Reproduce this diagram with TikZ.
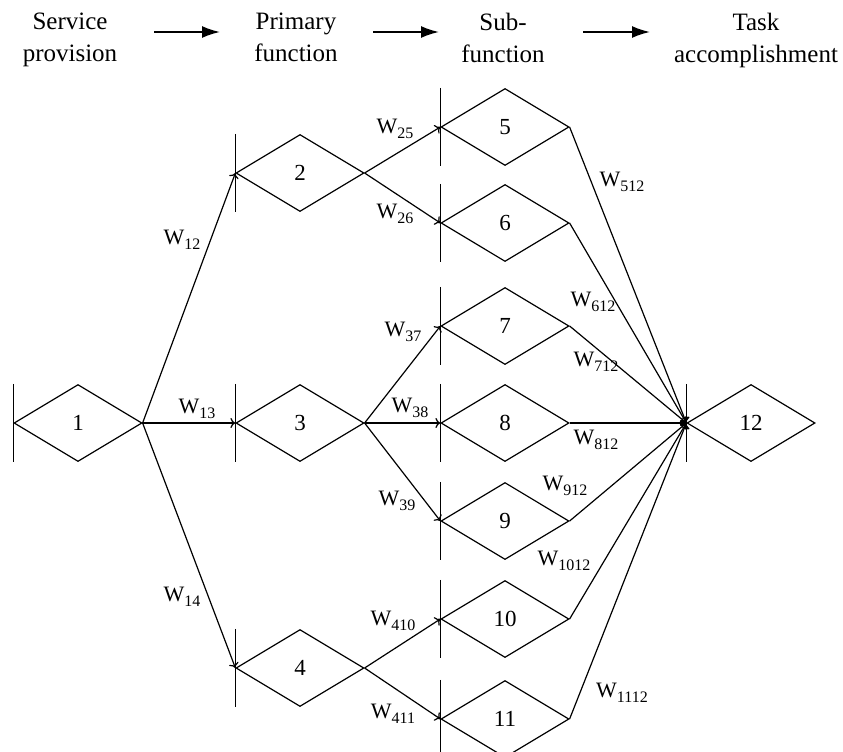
\documentclass[tikz,border=0pt]{standalone}
\usepackage{fontspec}
\setmainfont{Liberation Serif}
\usetikzlibrary{shapes.geometric,arrows.meta}

\newcommand{\wlab}[1]{W\raisebox{-0.22em}{\fontsize{16}{16}\selectfont #1}}

\tikzset{
  fnode/.style={draw, diamond, line width=1.2pt, minimum width=128pt, minimum height=77pt, inner sep=0pt, font=\fontsize{23}{23}\selectfont},
  wire/.style={line width=1.2pt, -{To[length=5pt,width=10pt]}},
  bar/.style={line width=1.2pt},
  wtext/.style={inner sep=0pt, font=\fontsize{22}{22}\selectfont},
  head/.style={align=center, anchor=north, inner sep=0pt, font=\fontsize{25}{32}\selectfont},
  flow/.style={line width=1.8pt, -{Latex[length=18pt,width=12pt]}}
}

\begin{document}
\begin{tikzpicture}[x=1pt,y=-1pt]
\useasboundingbox (0,0) rectangle (843,752);

%stage titles and arrows between them
\node[head] (service) at (70,13) {Service\\provision};
\node[head] (primary) at (296,13) {Primary\\function};
\node[head] (sub) at (503,13) {Sub-\\function};
\node[head] (task) at (756,13) {Task\\accomplishment};
\coordinate (s1) at (154,32); \coordinate (e1) at (220,32);
\coordinate (s2) at (373,32); \coordinate (e2) at (439,32);
\coordinate (s3) at (583,32); \coordinate (e3) at (650,32);
\draw[flow] (s1) -- (e1);
\draw[flow] (s2) -- (e2);
\draw[flow] (s3) -- (e3);

%function nodes
\node[fnode] (n1) at (78,423) {1};
\node[fnode] (n2) at (300,173) {2};
\node[fnode] (n3) at (300,423) {3};
\node[fnode] (n4) at (300,668) {4};
\node[fnode] (n5) at (505,127) {5};
\node[fnode] (n6) at (505,223) {6};
\node[fnode] (n7) at (505,326) {7};
\node[fnode] (n8) at (505,423) {8};
\node[fnode] (n9) at (505,521) {9};
\node[fnode] (n10) at (505,619) {10};
\node[fnode] (n11) at (505,719) {11};
\node[fnode] (n12) at (751,423) {12};

%input bar on the left of every node
\foreach \n in {n1,n2,n3,n4,n5,n6,n7,n8,n9,n10,n11,n12}
  \draw[bar] (\n.north -| \n.west) -- (\n.south -| \n.west);

%weighted links
\draw[wire] (n1.east) -- (n2.west);
\draw[wire] (n1.east) -- (n3.west);
\draw[wire] (n1.east) -- (n4.west);
\draw[wire] (n2.east) -- (n5.west);
\draw[wire] (n2.east) -- (n6.west);
\draw[wire] (n3.east) -- (n7.west);
\draw[wire] (n3.east) -- (n8.west);
\draw[wire] (n3.east) -- (n9.west);
\draw[wire] (n4.east) -- (n10.west);
\draw[wire] (n4.east) -- (n11.west);
\foreach \n in {n5,n6,n7,n8,n9,n10,n11}
  \draw[wire] (\n.east) -- (n12.west);

%weights
\node[wtext] (w12) at (182,240) {\wlab{12}};
\node[wtext] (w13) at (197,409) {\wlab{13}};
\node[wtext] (w14) at (182,597) {\wlab{14}};
\node[wtext] (w25) at (395,129) {\wlab{25}};
\node[wtext] (w26) at (395,214) {\wlab{26}};
\node[wtext] (w37) at (403,332) {\wlab{37}};
\node[wtext] (w38) at (410,408) {\wlab{38}};
\node[wtext] (w39) at (397,501) {\wlab{39}};
\node[wtext] (w410) at (393,621) {\wlab{410}};
\node[wtext] (w411) at (393,714) {\wlab{411}};
\node[wtext] (w512) at (622,182) {\wlab{512}};
\node[wtext] (w612) at (593,302) {\wlab{612}};
\node[wtext] (w712) at (596,362) {\wlab{712}};
\node[wtext] (w812) at (596,440) {\wlab{812}};
\node[wtext] (w912) at (565,486) {\wlab{912}};
\node[wtext] (w1012) at (564,561) {\wlab{1012}};
\node[wtext] (w1112) at (622,693) {\wlab{1112}};

\end{tikzpicture}
\end{document}
